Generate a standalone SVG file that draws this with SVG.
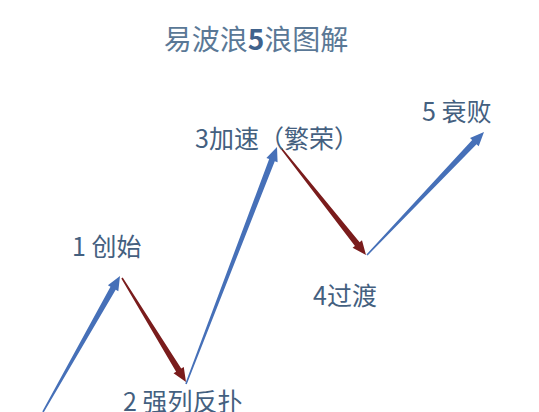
<svg xmlns="http://www.w3.org/2000/svg" width="539" height="412" viewBox="0 0 539 412">
<style>
.lbl{font-family:"Noto Sans CJK SC","Noto Sans",sans-serif;font-size:25px;fill:#44607f}
.title{font-family:"Noto Sans CJK SC","Noto Sans",sans-serif;font-size:28px;fill:#5a7896}
.up{fill:#4670b8}
.down{fill:#7a1c1c}
</style>
<rect width="539" height="412" fill="#ffffff"/>
<g id="title"><text class="title" x="256" y="50" text-anchor="middle">易波浪<tspan font-weight="bold" fill="#3f628c">5</tspan>浪图解</text></g>
<g id="connectors">
<polygon class="up" points="43.70,412.39 115.71,289.66 118.32,291.14 120,276 107.88,285.22 110.49,286.70 42.30,411.61"/>
<polygon class="down" points="121.32,278.42 176.10,371.65 173.55,373.22 186,382 183.77,366.94 181.22,368.51 122.68,277.58"/>
<polygon class="up" points="186.75,384.29 274.78,161.15 277.58,162.22 277,147 266.38,157.92 269.18,158.99 185.25,383.71"/>
<polygon class="down" points="280.37,148.50 354.94,245.91 352.59,247.77 366,255 361.99,240.31 359.64,242.18 281.63,147.50"/>
<polygon class="up" points="367.58,255.55 476.52,144.21 478.70,146.28 484,132 470.00,138.00 472.18,140.07 366.42,254.45"/>
</g>
<g id="wave1"><text class="lbl" x="72" y="256">1 创始</text></g>
<g id="wave2"><text class="lbl" x="123" y="411">2 强列反扑</text></g>
<g id="wave3"><text class="lbl" x="195" y="148">3加速（繁荣）</text></g>
<g id="wave4"><text class="lbl" x="313" y="305">4过渡</text></g>
<g id="wave5"><text class="lbl" x="422" y="121">5 衰败</text></g>
</svg>
